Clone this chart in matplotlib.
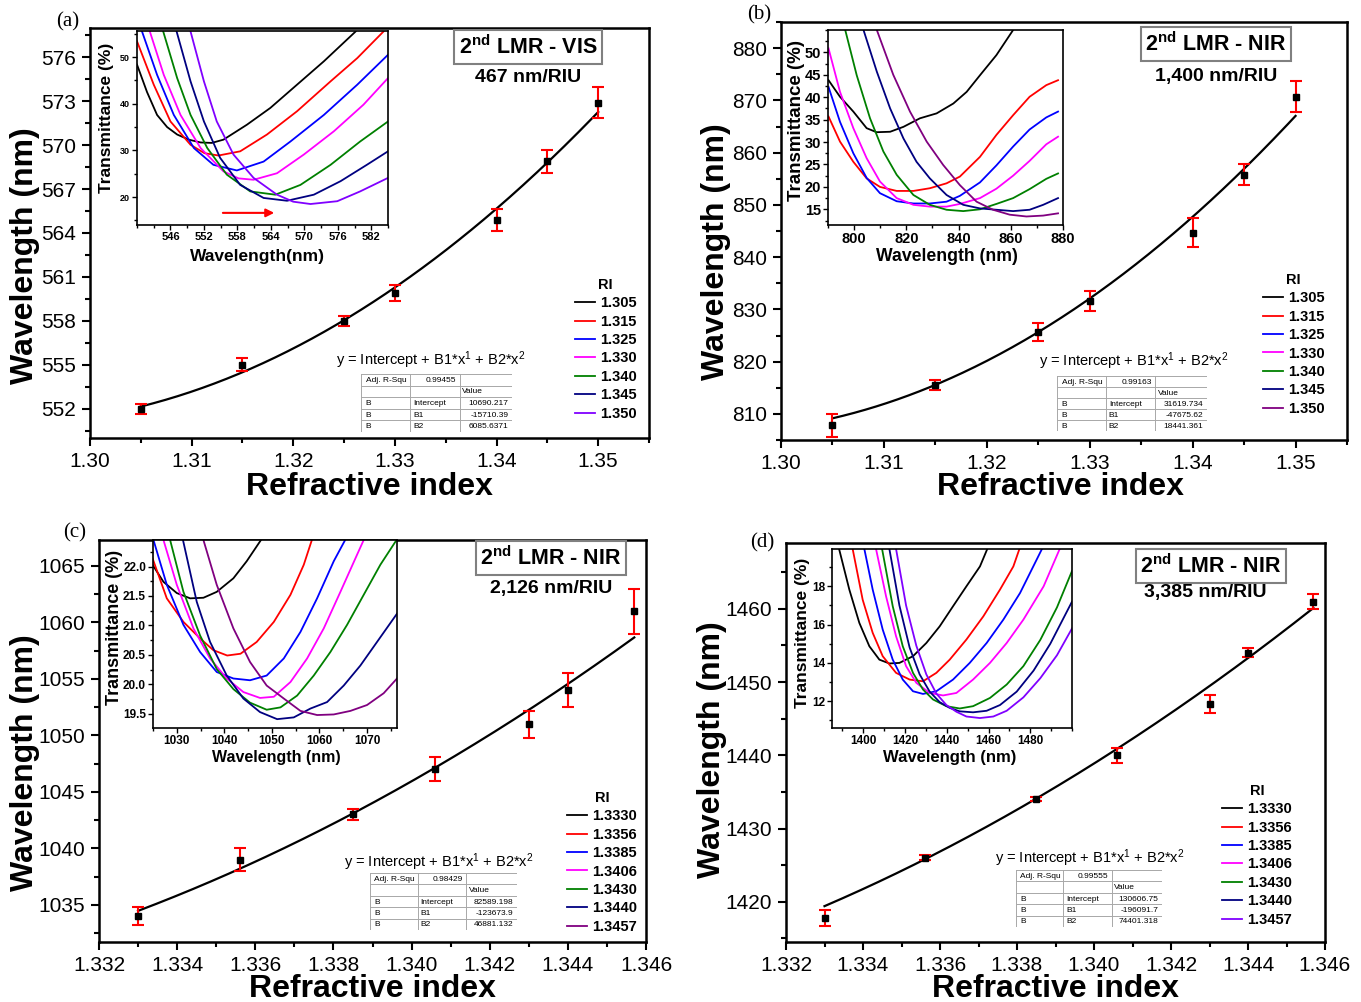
import numpy as np
import matplotlib
matplotlib.use('Agg')
import matplotlib.pyplot as plt
from matplotlib.ticker import MultipleLocator

plt.rcParams['font.family'] = ['Liberation Sans', 'DejaVu Sans']
plt.rcParams['mathtext.fontset'] = 'custom'
plt.rcParams['mathtext.rm'] = 'Liberation Sans'
plt.rcParams['mathtext.it'] = 'Liberation Sans'
plt.rcParams['mathtext.bf'] = 'Liberation Sans:bold'
plt.rcParams['mathtext.default'] = 'regular'

# ---------------- data ----------------
# panel (a)
ri_a = [1.305, 1.315, 1.325, 1.330, 1.340, 1.345, 1.350]
wl_a = [552.0, 555.0, 558.0, 559.9, 564.9, 568.9, 572.9]
err_a = [0.35, 0.45, 0.35, 0.55, 0.75, 0.8, 1.05]
coef_a = [10690.217, -15710.39, 6085.6371]
r2_a = '0.99455'
lab_a = ['1.305', '1.315', '1.325', '1.330', '1.340', '1.345', '1.350']
spec_x_a = [
    [540, 541.8, 543.6, 545.4, 547.2, 549.3, 551.4, 553.4, 555.5, 559.7, 563.9, 568.7, 573.5, 579.2],
    [540, 543.0, 546.0, 549.6, 552.1, 554.6, 558.5, 563.3, 568.7, 574.7, 579.5, 584.2],
    [540.9, 543.6, 546.6, 550.2, 553.7, 557.9, 562.7, 567.5, 573.5, 579.5, 585.0],
    [542.3, 544.8, 547.8, 551.4, 555.5, 558.2, 560.9, 565.1, 569.9, 575.3, 580.6, 585.0],
    [544.7, 547.2, 549.6, 552.6, 556.1, 560.3, 564.8, 569.3, 574.7, 580.0, 585.0],
    [547.1, 549.6, 552.0, 554.9, 558.5, 562.7, 566.9, 571.7, 576.5, 581.2, 585.0],
    [549.6, 552.0, 554.3, 557.3, 560.9, 565.1, 568.0, 571.1, 575.9, 580.0, 585.0]]
spec_y_a = [
    [48.4, 42.5, 37.6, 35.0, 33.4, 32.3, 31.7, 31.6, 32.3, 35.5, 39.1, 44.1, 49.1, 55.5],
    [53.4, 44.1, 36.2, 31.2, 29.4, 28.9, 29.8, 33.4, 38.4, 44.8, 49.8, 55.5],
    [55.5, 46.2, 37.6, 30.5, 26.9, 25.7, 27.6, 31.9, 37.6, 44.1, 50.5],
    [55.5, 46.2, 37.6, 30.5, 25.5, 24.0, 23.7, 25.1, 29.1, 34.1, 39.8, 45.5],
    [55.5, 45.5, 37.6, 30.5, 24.8, 21.2, 20.5, 22.6, 26.9, 31.9, 36.2],
    [55.5, 44.8, 36.2, 28.4, 22.6, 19.8, 19.2, 20.5, 23.4, 26.9, 29.8],
    [55.5, 44.8, 36.2, 29.1, 24.1, 20.5, 19.0, 18.5, 19.1, 21.2, 24.1]]
arrow_a = [554.9, 565.1, 16.6]

# panel (b)
ri_b = [1.305, 1.315, 1.325, 1.330, 1.340, 1.345, 1.350]
wl_b = [807.8, 815.5, 825.6, 831.6, 844.7, 855.8, 870.7]
err_b = [2.2, 1.0, 1.7, 2.0, 2.8, 2.0, 3.0]
coef_b = [31619.734, -47675.62, 18441.361]
r2_b = '0.99163'
lab_b = ['1.305', '1.315', '1.325', '1.330', '1.340', '1.345', '1.350']
xb16 = [790.2, 794.6, 799.7, 804.8, 809.9, 816.3, 822.7, 829.0, 835.4, 840.5, 848.2, 854.5, 860.9, 867.2, 873.6, 878.1]
spec_x_b = [
    [790.2, 794.6, 799.7, 804.8, 808.6, 813.8, 818.9, 825.2, 831.6, 838.0, 843.1, 848.2, 854.5, 860.9],
    xb16, xb16, xb16,
    [796.6, 801.0, 806.1, 811.2, 816.3, 822.7, 829.0, 835.4, 841.8, 848.2, 854.5, 860.9, 867.2, 873.6, 878.1],
    [803.6, 808.7, 813.8, 818.9, 823.9, 829.0, 835.4, 841.8, 848.2, 854.5, 860.9, 867.2, 872.4, 878.1],
    [808.7, 815.0, 821.4, 827.8, 834.1, 840.5, 846.9, 853.2, 859.6, 866.0, 872.4, 878.1]]
spec_y_b = [
    [43.8, 40.1, 36.8, 33.1, 32.2, 32.3, 33.4, 35.3, 36.4, 38.6, 41.2, 44.9, 49.4, 55.0],
    [35.7, 30.1, 25.6, 21.9, 20.0, 19.1, 19.1, 19.7, 20.8, 22.3, 26.7, 31.6, 36.0, 40.1, 42.7, 43.8],
    [42.3, 34.5, 27.5, 22.0, 18.6, 16.8, 16.3, 16.3, 16.7, 18.0, 21.0, 24.8, 29.0, 32.8, 35.5, 36.8],
    [50.9, 41.2, 33.1, 26.4, 21.2, 17.5, 16.0, 15.6, 15.6, 16.2, 17.5, 19.6, 22.5, 25.8, 29.5, 31.2],
    [55.0, 44.9, 35.3, 27.9, 22.7, 18.2, 16.0, 14.9, 14.6, 15.0, 16.2, 17.5, 19.5, 21.8, 23.0],
    [55.0, 45.7, 37.5, 30.8, 25.6, 21.9, 18.2, 16.0, 15.2, 14.9, 14.6, 14.9, 16.0, 17.5],
    [55.0, 45.0, 36.8, 30.1, 24.9, 20.4, 16.7, 14.9, 13.8, 13.4, 13.6, 14.1]]

# panel (c)
ri_c = [1.3330, 1.3356, 1.3385, 1.3406, 1.3430, 1.3440, 1.3457]
wl_c = [1034.0, 1039.0, 1043.0, 1047.0, 1051.0, 1054.0, 1061.0]
err_c = [0.8, 1.05, 0.5, 1.05, 1.2, 1.5, 2.0]
coef_c = [82589.198, -123673.9, 46881.132]
r2_c = '0.98429'
lab_c = ['1.3330', '1.3356', '1.3385', '1.3406', '1.3430', '1.3440', '1.3457']
spec_x_c = [
    [1024.9, 1027.2, 1030.0, 1032.8, 1035.6, 1038.4, 1041.9, 1044.7, 1047.7],
    [1024.9, 1027.9, 1031.4, 1034.9, 1037.7, 1040.6, 1043.4, 1046.8, 1050.4, 1053.9, 1056.7, 1058.4],
    [1025.1, 1027.9, 1031.4, 1034.9, 1038.4, 1041.9, 1045.4, 1048.9, 1052.5, 1056.0, 1059.5, 1063.0, 1065.4],
    [1027.2, 1030.0, 1033.5, 1037.0, 1040.5, 1044.0, 1047.5, 1050.4, 1053.9, 1057.4, 1060.9, 1064.4, 1067.9, 1069.3],
    [1028.6, 1031.4, 1034.9, 1038.4, 1041.9, 1045.4, 1048.9, 1051.8, 1055.3, 1058.8, 1062.3, 1065.8, 1069.3, 1072.8, 1076.2],
    [1031.3, 1034.2, 1037.0, 1040.5, 1044.0, 1047.5, 1051.1, 1054.6, 1058.1, 1061.6, 1065.1, 1068.6, 1072.1, 1076.3],
    [1035.6, 1038.4, 1041.9, 1045.4, 1048.9, 1052.5, 1056.0, 1059.5, 1063.0, 1066.5, 1070.0, 1073.5, 1076.3]]
spec_y_c = [
    [22.03, 21.74, 21.55, 21.46, 21.47, 21.57, 21.80, 22.09, 22.45],
    [22.14, 21.46, 21.06, 20.78, 20.58, 20.49, 20.52, 20.72, 21.06, 21.52, 22.03, 22.45],
    [22.45, 21.69, 21.01, 20.55, 20.21, 20.10, 20.07, 20.15, 20.44, 20.89, 21.46, 22.09, 22.45],
    [22.45, 21.69, 20.95, 20.44, 20.10, 19.87, 19.77, 19.79, 20.04, 20.44, 20.95, 21.57, 22.20, 22.45],
    [22.45, 21.57, 20.83, 20.26, 19.92, 19.69, 19.57, 19.61, 19.81, 20.15, 20.55, 21.01, 21.52, 22.03, 22.45],
    [22.45, 21.40, 20.72, 20.15, 19.76, 19.53, 19.41, 19.44, 19.59, 19.70, 19.98, 20.32, 20.72, 21.20],
    [22.45, 21.69, 20.95, 20.38, 19.98, 19.76, 19.55, 19.48, 19.49, 19.55, 19.65, 19.85, 20.10]]

# panel (d)
ri_d = [1.3330, 1.3356, 1.3385, 1.3406, 1.3430, 1.3440, 1.3457]
wl_d = [1417.8, 1426.0, 1434.0, 1440.0, 1447.0, 1454.0, 1461.0]
err_d = [1.1, 0.35, 0.3, 1.0, 1.2, 0.6, 1.0]
coef_d = [130606.75, -196091.7, 74401.318]
r2_d = '0.99555'
lab_d = ['1.3330', '1.3356', '1.3385', '1.3406', '1.3430', '1.3440', '1.3457']
spec_x_d = [
    [1388.4, 1393.3, 1398.1, 1402.9, 1407.7, 1412.5, 1417.3, 1423.8, 1430.2, 1436.6, 1443.0, 1449.4, 1455.9, 1459.4],
    [1394.9, 1399.7, 1404.5, 1409.3, 1415.7, 1422.2, 1428.6, 1435.0, 1441.4, 1449.4, 1457.5, 1465.5, 1471.9, 1474.8],
    [1400.5, 1404.5, 1409.3, 1414.1, 1418.9, 1423.8, 1428.6, 1435.0, 1443.0, 1451.0, 1459.1, 1467.1, 1475.1, 1485.6],
    [1406.1, 1410.9, 1415.7, 1420.5, 1425.4, 1431.8, 1438.2, 1444.6, 1452.6, 1460.7, 1468.7, 1476.7, 1486.4, 1494.1],
    [1409.0, 1414.1, 1418.9, 1423.8, 1428.6, 1433.4, 1439.8, 1446.2, 1452.6, 1460.7, 1468.7, 1476.7, 1484.8, 1492.8, 1500.0],
    [1412.5, 1417.3, 1422.2, 1427.0, 1431.8, 1436.6, 1441.4, 1446.2, 1452.6, 1459.1, 1465.5, 1473.5, 1481.6, 1489.6, 1500.0],
    [1415.7, 1420.5, 1425.4, 1430.2, 1435.0, 1439.8, 1444.6, 1449.4, 1455.9, 1462.3, 1468.7, 1476.7, 1484.8, 1492.8, 1500.0]]
spec_y_d = [
    [19.95, 17.83, 16.09, 14.87, 14.17, 13.97, 14.0, 14.35, 15.04, 15.91, 16.96, 18.0, 19.04, 19.95],
    [19.95, 17.30, 15.57, 14.35, 13.48, 13.13, 13.04, 13.48, 14.17, 15.22, 16.43, 17.83, 19.04, 19.95],
    [19.95, 17.83, 15.74, 14.17, 13.13, 12.52, 12.38, 12.52, 13.13, 14.0, 15.04, 16.26, 17.65, 19.95],
    [19.95, 17.48, 15.39, 13.83, 12.96, 12.43, 12.30, 12.43, 13.13, 14.0, 15.04, 16.26, 18.0, 19.95],
    [19.95, 16.96, 14.87, 13.48, 12.61, 12.09, 11.74, 11.62, 11.74, 12.17, 12.87, 13.83, 15.2, 16.9, 18.8],
    [19.95, 17.0, 14.8, 13.4, 12.5, 11.95, 11.65, 11.47, 11.42, 11.5, 11.8, 12.5, 13.6, 15.0, 17.2],
    [19.95, 17.0, 14.9, 13.4, 12.4, 11.8, 11.45, 11.2, 11.12, 11.2, 11.5, 12.2, 13.2, 14.4, 15.8]]

colors_a = ['#000000', '#ff0000', '#0000ff', '#ff00ff', '#008000', '#000080', '#8000ff']
colors_b = ['#000000', '#ff0000', '#0000ff', '#ff00ff', '#008000', '#000080', '#800080']
colors_c = ['#000000', '#ff0000', '#0000ff', '#ff00ff', '#008000', '#000080', '#800080']
colors_d = ['#000000', '#ff0000', '#0000ff', '#ff00ff', '#008000', '#000080', '#8000ff']

# ---------------- figure ----------------
W, H = 1361, 1002
fig = plt.figure(figsize=(W / 100, H / 100), dpi=100)
fig.patch.set_facecolor('white')


def R(l, t, r, b):
    return [l / W, 1 - b / H, (r - l) / W, (b - t) / H]


def P(x, y):
    return (x / W, 1 - y / H)


def main_panel(box, xlim, ylim, xt, xfmt, xminor, yt, yminor, ri, wl, err, coef, ylab_xy, xlab_xy):
    ax = fig.add_axes(R(*box))
    ax.set_xticks(xt)
    ax.set_xticklabels([xfmt.format(v) for v in xt])
    ax.set_yticks(yt)
    ax.set_yticklabels([str(v) for v in yt])
    ax.set_xlim(*xlim)
    ax.set_ylim(*ylim)
    ax.xaxis.set_minor_locator(MultipleLocator(xminor))
    ax.yaxis.set_minor_locator(MultipleLocator(yminor))
    ax.tick_params(which='both', direction='out', width=1.5, labelsize=15, top=False, right=False)
    ax.tick_params(which='major', length=6, pad=4)
    ax.tick_params(which='minor', length=3.5)
    for s in ax.spines.values():
        s.set_linewidth(1.8)
    xs = np.linspace(ri[0], ri[-1], 300)
    ax.plot(xs, coef[0] + coef[1] * xs + coef[2] * xs ** 2, color='black', lw=1.6, zorder=2)
    ax.errorbar(ri, wl, yerr=err, fmt='s', mfc='black', mec='black', ms=5, ecolor='red',
                elinewidth=1.5, capsize=4, capthick=1.5, zorder=3)
    ax.set_xlabel('Refractive index', fontsize=23, fontweight='bold')
    ax.set_ylabel('Wavelength (nm)', fontsize=23, fontweight='bold')
    ax.xaxis.set_label_coords(*xlab_xy)
    ax.yaxis.set_label_coords(*ylab_xy)
    ax.xaxis.label.set_va('center')
    ax.yaxis.label.set_va('center')
    return ax


def inset(box, xlim, ylim, xt, xminor, yt, yminor, yfmt, sx, sy, cols, fsx, fsy, fxl, fyl,
          xl_text, xl_xy, yl_xy):
    ax = fig.add_axes(R(*box))
    ax.set_facecolor('white')
    lines = []
    for x, y, c in zip(sx, sy, cols):
        ln, = ax.plot(x, y, color=c, lw=1.3, solid_joinstyle='round')
        lines.append(ln)
    ax.set_xticks(xt)
    ax.set_xticklabels([str(v) for v in xt], fontsize=fsx, fontweight='bold')
    ax.set_yticks(yt)
    ax.set_yticklabels([yfmt.format(v) for v in yt], fontsize=fsy, fontweight='bold')
    ax.set_xlim(*xlim)
    ax.set_ylim(*ylim)
    ax.xaxis.set_minor_locator(MultipleLocator(xminor))
    ax.yaxis.set_minor_locator(MultipleLocator(yminor))
    ax.tick_params(which='both', direction='out', width=1.0, top=False, right=False, pad=1.5)
    ax.tick_params(which='major', length=3.5)
    ax.tick_params(which='minor', length=2)
    for s in ax.spines.values():
        s.set_linewidth(1.2)
    ax.set_xlabel(xl_text, fontsize=fxl, fontweight='bold')
    ax.set_ylabel('Transmittance (%)', fontsize=fyl, fontweight='bold')
    ax.xaxis.set_label_coords(*xl_xy)
    ax.yaxis.set_label_coords(*yl_xy)
    ax.xaxis.label.set_va('center')
    ax.yaxis.label.set_va('center')
    return ax, lines


def table(box, r2, coef):
    ax = fig.add_axes(R(*box))
    ax.set_xlim(0, 1)
    ax.set_ylim(5, 0)
    ax.axis('off')
    cols = [0, 0.325, 0.656, 1]
    for y in range(6):
        ax.plot([0, 1], [y, y], color='#a8a8a8', lw=0.7)
    for x in cols:
        ax.plot([x, x], [0, 5], color='#a8a8a8', lw=0.7)
    fs = 6
    ax.text(0.03, 0.55, 'Adj. R-Squ', fontsize=fs, va='center', ha='left')
    ax.text(0.63, 0.55, r2, fontsize=fs, va='center', ha='right')
    ax.text(0.67, 1.55, 'Value', fontsize=fs, va='center', ha='left')
    for i, (nm, v) in enumerate(zip(['Intercept', 'B1', 'B2'], coef)):
        ax.text(0.03, 2.55 + i, 'B', fontsize=fs, va='center', ha='left')
        ax.text(0.345, 2.55 + i, nm, fontsize=fs, va='center', ha='left')
        ax.text(0.975, 2.55 + i, '{:.8g}'.format(v), fontsize=fs, va='center', ha='right')


def legend(ax, lines, labels, xy):
    ax.legend(handles=lines, labels=labels, title='RI', loc='upper left',
              bbox_to_anchor=P(*xy), bbox_transform=fig.transFigure, frameon=False,
              prop={'weight': 'bold', 'size': 10.5},
              title_fontproperties={'weight': 'bold', 'size': 10.5},
              handlelength=1.4, handletextpad=0.3, labelspacing=0.3,
              borderpad=0, borderaxespad=0)


def annotations(box_xy, mode, sens_xy, sens, eq_xy, plabel_xy, plabel):
    fig.text(*P(*box_xy), r'2$^{\mathbf{nd}}$ LMR - ' + mode, ha='center', va='center',
             fontsize=15.5, fontweight='bold',
             bbox=dict(boxstyle='square,pad=0.22', fc='white', ec='#808080', lw=1.5))
    fig.text(*P(*sens_xy), sens, ha='center', va='center', fontsize=14, fontweight='bold')
    fig.text(*P(*eq_xy), r'y = Intercept + B1*x$^1$ + B2*x$^2$', ha='center', va='center',
             fontsize=10.5)
    fig.text(*P(*plabel_xy), plabel, ha='center', va='center', fontsize=15,
             family=['Liberation Serif', 'DejaVu Serif'])


# ----- panel (a)
ax_a = main_panel((90, 28, 649, 438), (1.30, 1.355), (550, 578),
                  [1.30, 1.31, 1.32, 1.33, 1.34, 1.35], '{:.2f}', 0.005,
                  list(range(552, 577, 3)), 1.5, ri_a, wl_a, err_a, coef_a,
                  (-0.116, 0.446), (0.5, -0.12))
in_a, lines_a = inset((137, 31, 388, 225), (540, 585), (14, 55.6),
                      list(range(546, 583, 6)), 3, [20, 30, 40, 50], 5, '{}',
                      spec_x_a, spec_y_a, colors_a, 8, 6.5, 12.5, 12.5,
                      'Wavelength(nm)', (0.48, -0.16), (-0.12, 0.55))
in_a.annotate('', xy=(arrow_a[1], arrow_a[2]), xytext=(arrow_a[0], arrow_a[2]),
              arrowprops=dict(arrowstyle='-|>', color='red', lw=1.5, mutation_scale=12))
legend(ax_a, lines_a, lab_a, (575, 278))
table((361, 374, 512, 432), r2_a, coef_a)
annotations((528, 47), 'VIS', (528, 77), '467 nm/RIU', (431, 360), (68, 22), '(a)')

# ----- panel (b)
ax_b = main_panel((781, 22, 1347, 440), (1.30, 1.355), (805, 885),
                  [1.30, 1.31, 1.32, 1.33, 1.34, 1.35], '{:.2f}', 0.005,
                  list(range(810, 881, 10)), 5, ri_b, wl_b, err_b, coef_b,
                  (-0.115, 0.45), (0.493, -0.112))
in_b, lines_b = inset((828, 30, 1063, 225), (790, 880), (11.5, 55),
                      [800, 820, 840, 860, 880], 10, [15, 20, 25, 30, 35, 40, 45, 50], 2.5, '{}',
                      spec_x_b, spec_y_b, colors_b, 10.5, 10.5, 12.7, 13.5,
                      'Wavelength (nm)', (0.506, -0.16), (-0.132, 0.538))
legend(ax_b, lines_b, lab_b, (1263, 273))
table((1057, 376, 1207, 431), r2_b, coef_b)
annotations((1216, 44), 'NIR', (1216, 77), '1,400 nm/RIU', (1134, 361), (759, 15), '(b)')

# ----- panel (c)
ax_c = main_panel((99, 540, 646, 942), (1.332, 1.346), (1031.7, 1067.3),
                  [1.332, 1.334, 1.336, 1.338, 1.340, 1.342, 1.344, 1.346], '{:.3f}', 0.001,
                  list(range(1035, 1066, 5)), 2.5, ri_c, wl_c, err_c, coef_c,
                  (-0.135, 0.445), (0.499, -0.117))
in_c, lines_c = inset((153, 540, 397, 728), (1025, 1076.3), (19.26, 22.45),
                      [1030, 1040, 1050, 1060, 1070], 5, [19.5, 20.0, 20.5, 21.0, 21.5, 22.0], 0.25,
                      '{:.1f}', spec_x_c, spec_y_c, colors_c, 8.5, 8.5, 11.5, 13,
                      'Wavelength (nm)', (0.504, -0.155), (-0.156, 0.537))
legend(ax_c, lines_c, lab_c, (567, 791))
table((370, 873, 517, 930), r2_c, coef_c)
annotations((551, 558), 'NIR', (551, 589), '2,126 nm/RIU', (439, 862), (75, 533), '(c)')

# ----- panel (d)
ax_d = main_panel((786, 543, 1325, 942), (1.332, 1.346), (1414.5, 1469),
                  [1.332, 1.334, 1.336, 1.338, 1.340, 1.342, 1.344, 1.346], '{:.3f}', 0.001,
                  list(range(1420, 1461, 10)), 5, ri_d, wl_d, err_d, coef_d,
                  (-0.137, 0.481), (0.499, -0.118))
in_d, lines_d = inset((832, 549, 1072, 728), (1385, 1500), (10.6, 19.95),
                      [1400, 1420, 1440, 1460, 1480], 10, [12, 14, 16, 18], 1, '{}',
                      spec_x_d, spec_y_d, colors_d, 8.5, 8.5, 12, 12.5,
                      'Wavelength (nm)', (0.49, -0.165), (-0.125, 0.53))
legend(ax_d, lines_d, lab_d, (1222, 784))
table((1016, 870, 1162, 927), r2_d, coef_d)
annotations((1211, 566), 'NIR', (1205, 592), '3,385 nm/RIU', (1090, 858), (762, 543), '(d)')

fig.savefig('out.png', dpi=100, facecolor='white')
